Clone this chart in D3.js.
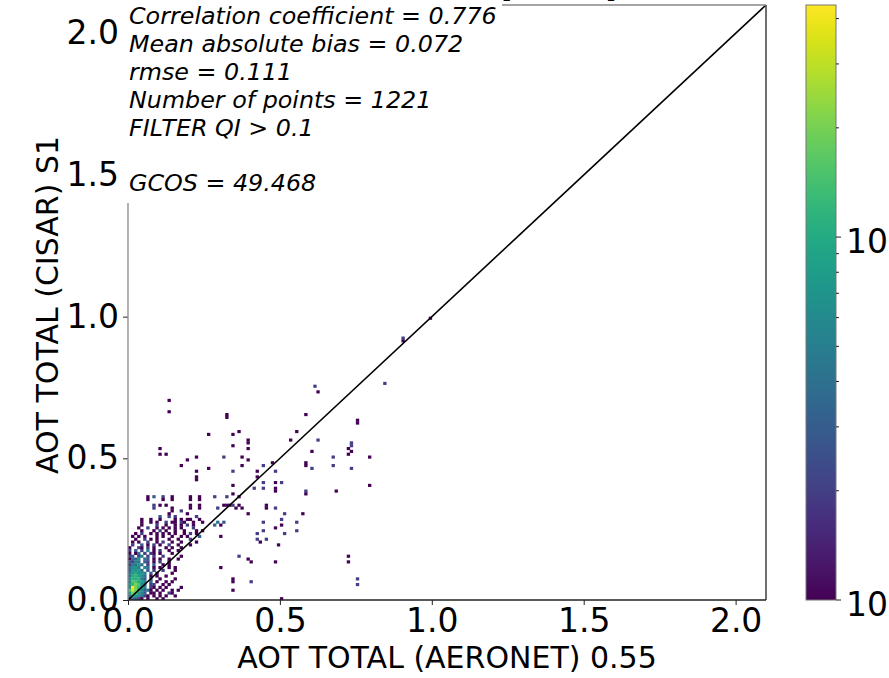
<!DOCTYPE html>
<html>
<head>
<meta charset="utf-8">
<script src="https://cdn.jsdelivr.net/npm/d3@7"></script>
<style>
  body { margin: 0; background: #fff; }
  svg { display: block; font-family: "DejaVu Sans", sans-serif; }
</style>
</head>
<body>
<svg id="chart" width="889" height="678"></svg>
<script>
// Osy a popisky
var osaX = [0, 2.1];
var osaY = [0, 2.1];
var tickHodnoty = [0, 0.5, 1.0, 1.5, 2.0];
var velikostBinu = 0.01;
var popisX = "AOT TOTAL (AERONET) 0.55";
var popisY = "AOT TOTAL (CISAR) S1";
var statistiky = [
    "Correlation coefficient = 0.776",
    "Mean absolute bias = 0.072",
    "rmse = 0.111",
    "Number of points = 1221",
    "FILTER QI > 0.1",
    "",
    "GCOS = 49.468"
];

// Barevná škála (log)
var cbarMax = 43.6;
var cbarHlavni = [1, 10];
var cbarVedlejsi = [2, 3, 4, 5, 6, 7, 8, 9, 20, 30, 40];

// Hustá oblast histogramu: řádky od y = 0.36 dolů po y = 0.00, sloupce x = 0.00 .. 0.29
// '.' = prázdno, číslice = počet, písmena = vyšší počty
var kodyPoctu = { a: 10, b: 12, c: 15, d: 20, e: 25, f: 30, g: 35, h: 44 };
var hustaOblast = [
    "......1.3..2..1.....1..1....2.",
    "......1....1..1.....1..1......",
    "..............................",
    "........2.1.1.......1..1......",
    "........2.....1.....1..1.....2",
    "..............1..2............",
    ".............1.....1..........",
    "..........3..2.2......2.......",
    "....1..1..1....1.1.11..1......",
    "....1..1.1..2.11.21..1..1....4",
    "....1....2..1..1.1.2.1......3.",
    "...1..2..1.1.1.1.1...2........",
    "....1...1.2.1..1..1...1.1.....",
    "..1.2..1.1.1.1.1..1.2.1.......",
    ".1.1.1...1.1..1..1.1...3......",
    "..1..2.1.1...1..1...2.........",
    ".1.1..2..1.2..1..1....1.......",
    ".2..3.1.2.1..2..1...1.........",
    "1..21.2.1...1.1..1............",
    "2.3.2.5.1.2..1..1.............",
    "1.14.2.21.1...1...............",
    "23.25.2.2..2.....1............",
    "1436.43.1.1..1..1.............",
    "3254.32.1.2..1................",
    "25484.2.3..1.1................",
    "4675.64.1.1..1.1..............",
    "38694.3.2..2...1..............",
    "57a675.3.1....1...............",
    "4ab864.1.1..1.................",
    "6bab53.2..1....1..............",
    "5cca85.3.1..1.1...............",
    "8bdc64.22..1.1................",
    "6hdb75.21.1.1....1............",
    "cgda6341.1.1..1.1.............",
    "8dc853.11.1..21...............",
    "5b86421.1.1.1..1..............",
    "24321.1..1.1.................."
];

// Řídké buňky mimo hustou oblast: [x, y, počet]
var rideBunky = [
    [0.61, 0.75, 2], [0.62, 0.73, 1], [0.84, 0.76, 2], [0.13, 0.70, 1], [0.13, 0.66, 1],
    [0.32, 0.65, 1], [0.32, 0.64, 1], [0.58, 0.65, 1], [0.75, 0.63, 1], [0.75, 0.62, 1],
    [0.36, 0.59, 1], [0.34, 0.58, 1], [0.26, 0.58, 1], [0.55, 0.59, 1], [0.53, 0.56, 1],
    [0.62, 0.56, 2], [0.39, 0.56, 1], [0.39, 0.55, 1], [0.73, 0.55, 2], [0.73, 0.54, 2],
    [0.34, 0.54, 1], [0.39, 0.53, 1], [0.10, 0.53, 1], [0.12, 0.51, 1], [0.10, 0.51, 1],
    [0.60, 0.52, 1], [0.72, 0.53, 1], [0.72, 0.51, 1], [0.73, 0.52, 1], [0.79, 0.50, 1],
    [0.19, 0.49, 1], [0.22, 0.50, 1], [0.31, 0.50, 2], [0.37, 0.50, 1], [0.39, 0.49, 1],
    [0.47, 0.48, 1], [0.67, 0.50, 2], [0.73, 0.46, 2], [0.17, 0.47, 1], [0.26, 0.46, 1],
    [0.22, 0.45, 1], [0.34, 0.45, 2], [0.37, 0.47, 1], [0.42, 0.45, 1], [0.44, 0.47, 2],
    [0.48, 0.45, 2], [0.58, 0.48, 1], [0.58, 0.47, 1], [0.60, 0.46, 2], [0.67, 0.47, 2],
    [0.22, 0.43, 1], [0.22, 0.42, 1], [0.42, 0.43, 1], [0.34, 0.40, 1], [0.41, 0.39, 2],
    [0.44, 0.41, 2], [0.44, 0.39, 2], [0.48, 0.41, 1], [0.48, 0.39, 1], [0.48, 0.38, 1],
    [0.50, 0.41, 2], [0.58, 0.38, 2], [0.58, 0.37, 1], [0.68, 0.38, 1], [0.79, 0.40, 1],
    [0.32, 0.36, 2], [0.34, 0.37, 1], [0.36, 0.36, 1], [0.32, 0.33, 1], [0.33, 0.33, 1],
    [0.34, 0.33, 2], [0.35, 0.32, 1], [0.36, 0.33, 1], [0.37, 0.32, 1], [0.31, 0.33, 1],
    [0.39, 0.30, 1], [0.45, 0.33, 1], [0.45, 0.32, 1], [0.48, 0.32, 2], [0.51, 0.30, 2],
    [0.57, 0.30, 1], [0.55, 0.27, 2], [0.50, 0.28, 2], [0.44, 0.27, 2], [0.50, 0.26, 1],
    [0.48, 0.25, 1], [0.51, 0.23, 2], [0.55, 0.24, 2], [0.42, 0.23, 2], [0.44, 0.24, 2],
    [0.42, 0.21, 2], [0.45, 0.21, 2], [0.43, 0.20, 1], [0.49, 0.19, 1], [0.36, 0.15, 2],
    [0.39, 0.14, 1], [0.40, 0.13, 1], [0.48, 0.13, 1], [0.72, 0.15, 1], [0.72, 0.13, 1],
    [0.30, 0.11, 1], [0.34, 0.07, 1], [0.34, 0.06, 1], [0.34, 0.03, 1], [0.40, 0.06, 2],
    [0.75, 0.07, 2], [0.75, 0.05, 2], [0.50, 0.00, 1], [0.90, 0.92, 2], [0.90, 0.91, 1],
    [0.99, 0.99, 1], [0.30, 0.26, 1], [0.31, 0.27, 3], [0.30, 0.22, 1]
];

// Rozložení grafu
var levo = 128, pravo = 766, nahore = 5, dole = 600;
var svg = d3.select("#chart");

var x = d3.scaleLinear().domain(osaX).range([levo, pravo]);
var y = d3.scaleLinear().domain(osaY).range([dole, nahore]);
var barva = d3.scaleSequentialLog(d3.interpolateViridis).domain([1, cbarMax]);

// Převod dat na seznam buněk
var bunky = [];
hustaOblast.forEach(function (radek, i) {
    var yv = (hustaOblast.length - 1 - i) * velikostBinu;
    radek.split("").forEach(function (ch, j) {
        if (ch === ".") return;
        var n = kodyPoctu[ch] || +ch;
        bunky.push({ x: j * velikostBinu, y: yv, n: n });
    });
});
rideBunky.forEach(function (b) {
    bunky.push({ x: b[0], y: b[1], n: b[2] });
});

svg.append("clipPath").attr("id", "plocha")
    .append("rect").attr("x", levo).attr("y", nahore)
    .attr("width", pravo - levo).attr("height", dole - nahore);

var g = svg.append("g").attr("clip-path", "url(#plocha)");

var sirka = x(velikostBinu) - x(0);
var vyska = y(0) - y(velikostBinu);

g.selectAll("rect.bin")
    .data(bunky)
    .enter()
    .append("rect")
    .attr("class", "bin")
    .attr("x", d => x(d.x))
    .attr("y", d => y(d.y + velikostBinu))
    .attr("width", sirka + 0.3)
    .attr("height", vyska + 0.3)
    .attr("fill", d => barva(d.n));

// diagonála 1:1
g.append("line")
    .attr("x1", x(0)).attr("y1", y(0))
    .attr("x2", x(2.1)).attr("y2", y(2.1))
    .attr("stroke", "#000")
    .attr("stroke-width", 1.6);

// osy
var fontTick = 33;
var osaDole = svg.append("g")
    .attr("transform", "translate(0," + dole + ")")
    .call(d3.axisBottom(x).tickValues(tickHodnoty).tickFormat(d3.format(".1f")).tickSize(5).tickPadding(4));
var osaLevo = svg.append("g")
    .attr("transform", "translate(" + levo + ",0)")
    .call(d3.axisLeft(y).tickValues(tickHodnoty).tickFormat(d3.format(".1f")).tickSize(5).tickPadding(4));

[osaDole, osaLevo].forEach(function (o) {
    o.select(".domain").remove();
    o.selectAll("text").attr("font-size", fontTick).attr("font-family", "DejaVu Sans").attr("fill", "#000");
    o.selectAll("line").attr("stroke", "#222");
});

// rámeček
svg.append("line").attr("x1", levo).attr("x2", pravo).attr("y1", dole).attr("y2", dole)
    .attr("stroke", "#222").attr("stroke-width", 1.3);
svg.append("line").attr("x1", pravo).attr("x2", pravo).attr("y1", nahore).attr("y2", dole)
    .attr("stroke", "#222").attr("stroke-width", 1.3);
svg.append("line").attr("x1", levo).attr("x2", levo).attr("y1", nahore).attr("y2", dole)
    .attr("stroke", "#888").attr("stroke-width", 1.3);
svg.append("line").attr("x1", levo).attr("x2", pravo).attr("y1", nahore).attr("y2", nahore)
    .attr("stroke", "#888").attr("stroke-width", 1.3);

// nadpis (jen spodní okraj závorek je vidět)
svg.append("text").attr("x", 501).attr("y", -3).attr("font-size", 30).text("[");
svg.append("text").attr("x", 605).attr("y", -3).attr("font-size", 30).text("]");

// bílý box se statistikami
svg.append("rect")
    .attr("x", 120).attr("y", 0)
    .attr("width", 382).attr("height", 203)
    .attr("fill", "#fff");

svg.append("g").selectAll("text")
    .data(statistiky)
    .enter()
    .append("text")
    .attr("x", 129)
    .attr("y", (d, i) => 24 + i * 27.9)
    .attr("font-size", 23.8)
    .attr("font-style", "italic")
    .text(d => d);

// popisky os
svg.append("text")
    .attr("x", (levo + pravo) / 2)
    .attr("y", 668)
    .attr("text-anchor", "middle")
    .attr("font-size", 30)
    .text(popisX);

svg.append("text")
    .attr("transform", "translate(58," + 305 + ") rotate(-90)")
    .attr("text-anchor", "middle")
    .attr("font-size", 30)
    .text(popisY);

// barevná škála
var cbX = 806, cbW = 30;
var cbY = d3.scaleLog().domain([1, cbarMax]).range([dole, nahore]);

var grad = svg.append("defs").append("linearGradient")
    .attr("id", "viridis")
    .attr("x1", 0).attr("y1", 1).attr("x2", 0).attr("y2", 0);
d3.range(0, 1.0001, 0.02).forEach(function (t) {
    grad.append("stop").attr("offset", t).attr("stop-color", d3.interpolateViridis(t));
});

svg.append("rect")
    .attr("x", cbX).attr("y", nahore)
    .attr("width", cbW).attr("height", dole - nahore)
    .attr("fill", "url(#viridis)")
    .attr("stroke", "#777").attr("stroke-width", 1);

svg.selectAll("line.minor")
    .data(cbarVedlejsi)
    .enter()
    .append("line")
    .attr("x1", cbX + cbW).attr("x2", cbX + cbW + 3)
    .attr("y1", d => cbY(d)).attr("y2", d => cbY(d))
    .attr("stroke", "#222");

svg.selectAll("line.major")
    .data(cbarHlavni)
    .enter()
    .append("line")
    .attr("x1", cbX + cbW).attr("x2", cbX + cbW + 5)
    .attr("y1", d => cbY(d)).attr("y2", d => cbY(d))
    .attr("stroke", "#222");

var cbText = svg.selectAll("text.cbl")
    .data(cbarHlavni)
    .enter()
    .append("text")
    .attr("x", cbX + cbW + 10)
    .attr("y", d => cbY(d) + 16)
    .attr("font-size", fontTick);
cbText.append("tspan").text("10");
cbText.append("tspan").attr("dy", -14).attr("font-size", 23).text(d => Math.round(Math.log10(d)));
</script>
</body>
</html>
